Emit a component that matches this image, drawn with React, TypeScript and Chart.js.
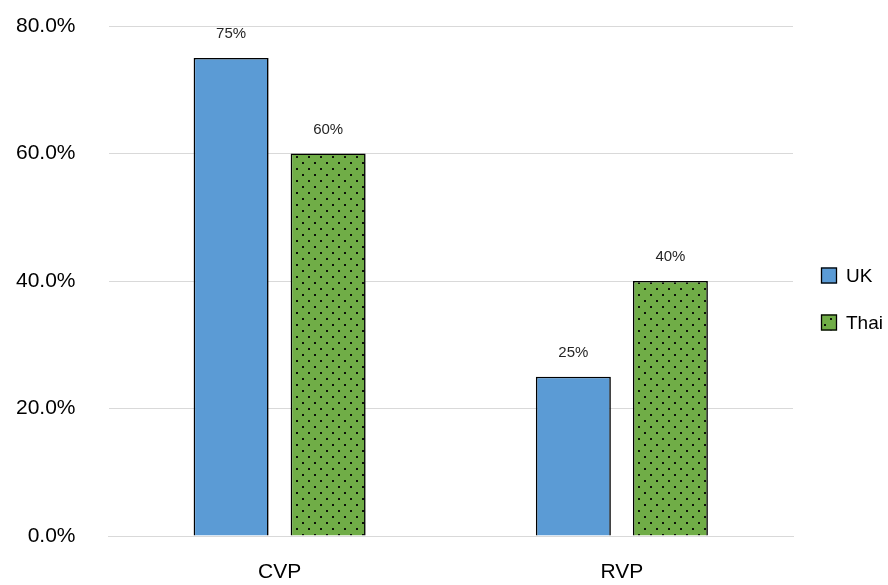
import React, { useEffect, useRef } from "react";
import { Chart, registerables } from "chart.js";

Chart.register(...registerables);

const categories = ["CVP", "RVP"];
const ukValues = [75, 25];
const thaiValues = [60, 40];
const seriesNames = ["UK", "Thai"];
const yTicks = [0, 20, 40, 60, 80];

const FONT = "'Liberation Sans', Arial, sans-serif";

function makeDotPattern(): CanvasPattern | string {
  const c = document.createElement("canvas");
  c.width = 12;
  c.height = 12;
  const ctx = c.getContext("2d");
  if (!ctx) return "#70AD47";
  ctx.fillStyle = "#70AD47";
  ctx.fillRect(0, 0, 12, 12);
  ctx.fillStyle = "#0d1408";
  ctx.fillRect(8, 0, 2, 2);
  ctx.fillRect(2, 6, 2, 2);
  const p = ctx.createPattern(c, "repeat");
  return p || "#70AD47";
}

export default function App() {
  const ref = useRef<HTMLCanvasElement | null>(null);

  useEffect(() => {
    document.body.style.margin = "0";
    const canvas = ref.current;
    if (!canvas) return;
    const pattern = makeDotPattern();
    const colors: any[] = ["#5B9BD5", pattern];

    const labelPlugin = {
      id: "valueLabels",
      afterDatasetsDraw(chart: any) {
        const ctx = chart.ctx;
        ctx.save();
        ctx.font = `15px ${FONT}`;
        ctx.fillStyle = "#262626";
        ctx.textAlign = "center";
        ctx.textBaseline = "middle";
        chart.data.datasets.forEach((ds: any, di: number) => {
          const meta = chart.getDatasetMeta(di);
          meta.data.forEach((bar: any, i: number) => {
            ctx.fillText(`${ds.data[i]}%`, bar.x, bar.y - 24);
          });
        });
        ctx.restore();
      },
    };

    const legendPlugin = {
      id: "customLegend",
      afterDraw(chart: any) {
        const ctx = chart.ctx;
        const area = chart.chartArea;
        const x = area.right + 28;
        const centers = [275.5, 322.5];
        ctx.save();
        ctx.font = `19px ${FONT}`;
        ctx.textBaseline = "middle";
        ctx.textAlign = "left";
        seriesNames.forEach((name, i) => {
          const cy = centers[i];
          ctx.fillStyle = colors[i];
          ctx.fillRect(x, cy - 8, 16, 16);
          ctx.lineWidth = 1.3;
          ctx.strokeStyle = "#000";
          ctx.strokeRect(x + 0.5, cy - 7.5, 15, 15);
          ctx.fillStyle = "#000";
          ctx.fillText(name, x + 25, cy + 1);
        });
        ctx.restore();
      },
    };

    const chart = new Chart(canvas, {
      type: "bar",
      data: {
        labels: categories,
        datasets: [
          {
            label: seriesNames[0],
            data: ukValues,
            backgroundColor: colors[0],
            borderColor: "#000",
            borderWidth: 1.6,
            categoryPercentage: 0.567,
            barPercentage: 0.773,
          },
          {
            label: seriesNames[1],
            data: thaiValues,
            backgroundColor: colors[1],
            borderColor: "#000",
            borderWidth: 1.6,
            categoryPercentage: 0.567,
            barPercentage: 0.773,
          },
        ],
      },
      options: {
        responsive: false,
        animation: false,
        devicePixelRatio: 1,
        layout: { padding: { top: 26, right: 95, bottom: 0, left: 0 } },
        plugins: {
          legend: { display: false },
          tooltip: { enabled: false },
        },
        scales: {
          x: {
            grid: { display: false, drawTicks: false },
            border: { display: true, color: "#D9D9D9" },
            ticks: {
              font: { family: FONT, size: 21 },
              color: "#000",
              padding: 24,
            },
            afterFit(scale: any) {
              scale.height = 49;
            },
          },
          y: {
            min: 0,
            max: 80,
            afterBuildTicks(scale: any) {
              scale.ticks = yTicks.map((v) => ({ value: v }));
            },
            grid: { color: "#D9D9D9", lineWidth: 1, drawTicks: false },
            border: { display: false },
            ticks: {
              font: { family: FONT, size: 21 },
              color: "#000",
              padding: 33,
              callback: (v: any) => `${Number(v).toFixed(1)}%`,
            },
            afterFit(scale: any) {
              scale.width = 108.5;
              scale.paddingTop = 13;
              scale.paddingBottom = 13;
            },
          },
        },
      },
      plugins: [labelPlugin, legendPlugin],
    });
    return () => chart.destroy();
  }, []);

  return (
    <div style={{ position: "absolute", left: 0, top: 0, width: 888, height: 585 }}>
      <canvas ref={ref} width={888} height={585} />
    </div>
  );
}
